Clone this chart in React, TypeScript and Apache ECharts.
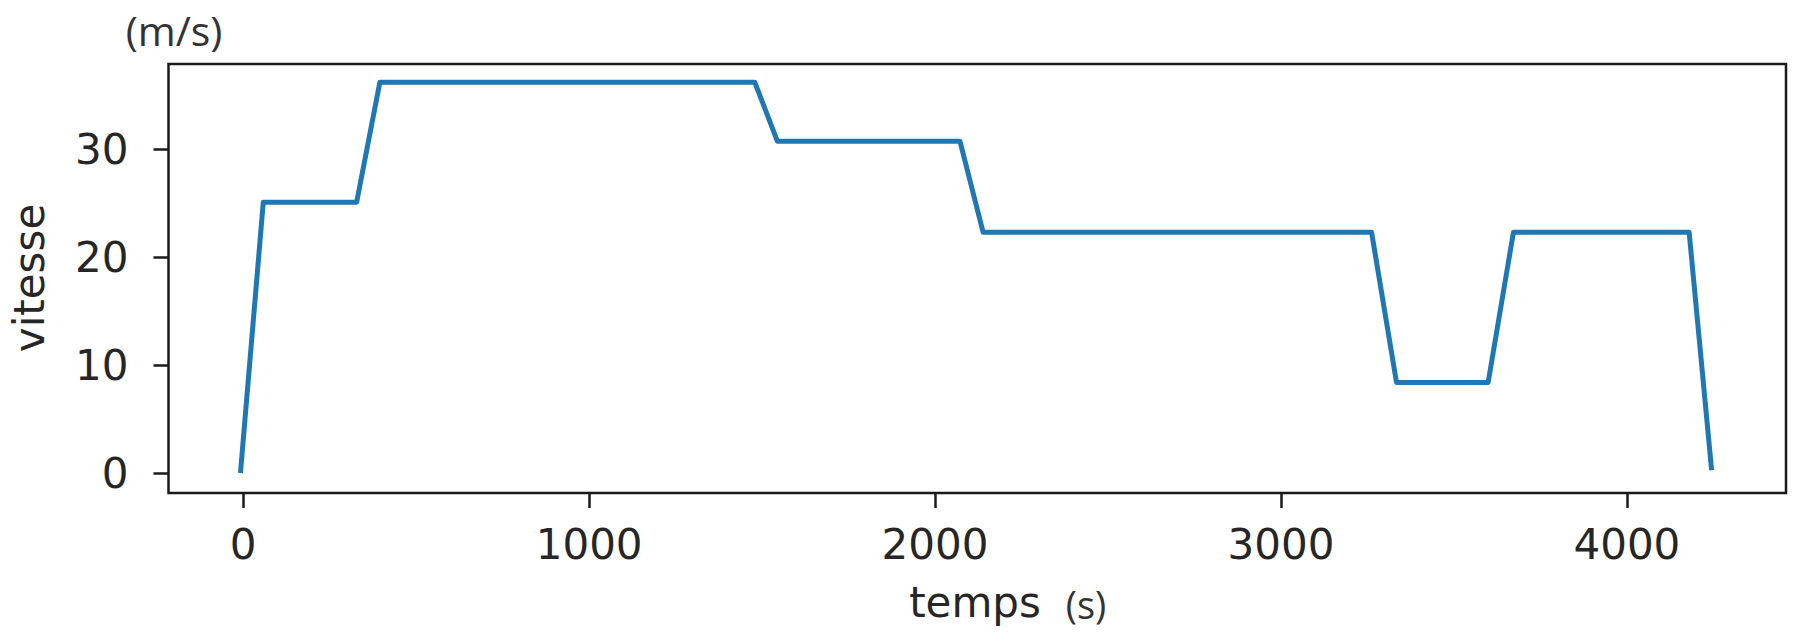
import React, { useEffect, useRef } from "react";
import * as echarts from "echarts";

// temps (s)
const times = [-8, 58, 328, 395, 1479, 1544, 2072, 2139, 3262, 3334, 3599, 3672, 4180, 4245];
// vitesse (m/s)
const speeds = [0, 25.1, 25.1, 36.2, 36.2, 30.75, 30.75, 22.3, 22.3, 8.4, 8.4, 22.3, 22.3, 0.25];

const xTicks = [0, 1000, 2000, 3000, 4000];
const yTicks = [0, 10, 20, 30];

const X_MIN = -216;
const X_MAX = 4460;
const Y_MIN = -1.85;
const Y_MAX = 37.9;

const TXT = "#262626";
const MPL_FONT = "DejaVu Sans";
const UNIT_FONT = "Open Sans";

export default function App() {
  const ref = useRef<HTMLDivElement>(null);

  useEffect(() => {
    if (!ref.current) return;
    const chart = echarts.init(ref.current, undefined, { renderer: "svg" });
    const data = times.map((t, i) => [t, speeds[i]]);
    chart.setOption({
      animation: false,
      backgroundColor: "#ffffff",
      grid: {
        left: 168.5,
        top: 64,
        right: 8,
        bottom: 139,
        show: true,
        borderColor: "#1a1a1a",
        borderWidth: 2.5,
        backgroundColor: "transparent",
      },
      xAxis: {
        type: "value",
        min: X_MIN,
        max: X_MAX,
        splitLine: { show: false },
        axisLine: { show: false, onZero: false },
        axisTick: {
          show: true,
          inside: false,
          length: 15,
          customValues: xTicks,
          lineStyle: { color: "#1a1a1a", width: 2.5 },
        },
        axisLabel: {
          customValues: xTicks,
          formatter: (v: number) => String(v),
          margin: 30,
          color: TXT,
          fontFamily: MPL_FONT,
          fontSize: 42,
        },
      },
      yAxis: {
        type: "value",
        min: Y_MIN,
        max: Y_MAX,
        splitLine: { show: false },
        axisLine: { show: false, onZero: false },
        axisTick: {
          show: true,
          inside: false,
          length: 15,
          customValues: yTicks,
          lineStyle: { color: "#1a1a1a", width: 2.5 },
        },
        axisLabel: {
          customValues: yTicks,
          formatter: (v: number) => String(v),
          margin: 40,
          color: TXT,
          fontFamily: MPL_FONT,
          fontSize: 42,
        },
      },
      graphic: [
        {
          type: "text",
          x: 29,
          y: 278,
          rotation: Math.PI / 2,
          style: {
            text: "vitesse",
            fill: TXT,
            font: `42px "${MPL_FONT}"`,
            align: "center",
            verticalAlign: "middle",
          },
        },
        {
          type: "text",
          x: 975,
          y: 602,
          style: {
            text: "temps",
            fill: TXT,
            font: `42px "${MPL_FONT}"`,
            align: "center",
            verticalAlign: "middle",
          },
        },
        {
          type: "text",
          x: 1086,
          y: 604,
          style: {
            text: "(s)",
            fill: "#333333",
            font: `38px "${UNIT_FONT}"`,
            align: "center",
            verticalAlign: "middle",
          },
        },
        {
          type: "text",
          x: 174,
          y: 30,
          style: {
            text: "(m/s)",
            fill: "#333333",
            font: `41px "${UNIT_FONT}"`,
            align: "center",
            verticalAlign: "middle",
          },
        },
      ],
      series: [
        {
          type: "line",
          data,
          showSymbol: false,
          symbol: "none",
          lineStyle: { color: "#1f77b4", width: 5, join: "round" },
          clip: true,
        },
      ],
    });
    return () => chart.dispose();
  }, []);

  return (
    <div
      ref={ref}
      style={{ position: "absolute", left: 0, top: 0, width: 1794, height: 632 }}
    />
  );
}
